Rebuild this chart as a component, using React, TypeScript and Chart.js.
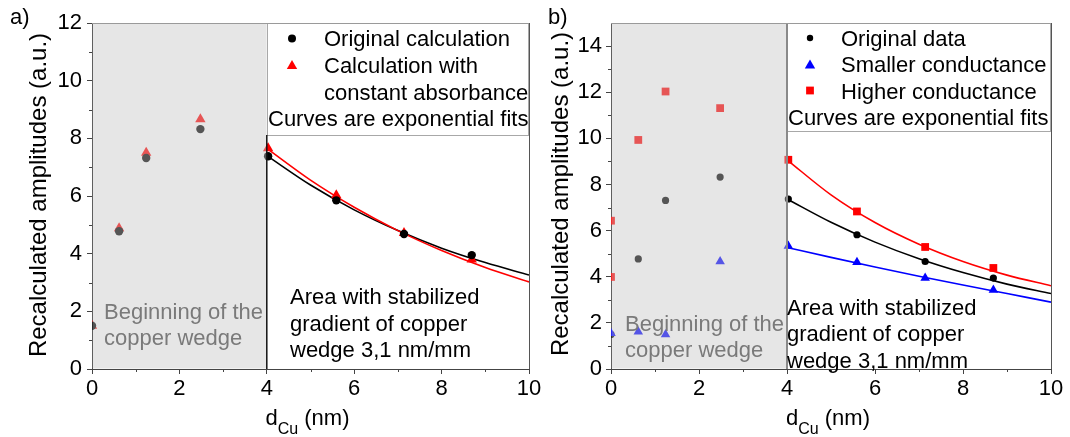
import React, { useEffect, useRef } from 'react';
import { Chart, registerables } from 'chart.js';

Chart.register(...registerables);

const FONT = '"Liberation Sans", Arial, Helvetica, sans-serif';

// ---------- shared ----------
const X_TICKS = [0, 2, 4, 6, 8, 10];
const X_MINOR = [1, 3, 5, 7, 9];
const FIT_X = [4, 5, 6, 7, 8, 9, 10];
const SPLIT_X = 4;

// ---------- panel a ----------
const A_Y_TICKS = [0, 2, 4, 6, 8, 10, 12];
const A_Y_MINOR = [1, 3, 5, 7, 9, 11];
const A_X_ORIG = [0, 0.62, 1.24, 2.48, 4.03, 5.59, 7.14, 8.69];
const A_Y_ORIG = [1.5, 4.78, 7.32, 8.32, 7.38, 5.85, 4.68, 3.95];
const A_X_CONST = [0, 0.62, 1.24, 2.48, 4.03, 5.59, 7.14, 8.69];
const A_Y_CONST = [1.5, 4.88, 7.5, 8.66, 7.66, 6.03, 4.72, 3.8];
const A_FIT_ORIG = [7.4, 6.38, 5.52, 4.8, 4.19, 3.69, 3.26];
const A_FIT_CONST = [7.65, 6.55, 5.61, 4.8, 4.11, 3.52, 3.02];

// ---------- panel b ----------
const B_Y_TICKS = [0, 2, 4, 6, 8, 10, 12, 14];
const B_Y_MINOR = [1, 3, 5, 7, 9, 11, 13];
const B_X_ORIG = [0, 0.62, 1.24, 2.48, 4.03, 5.59, 7.14, 8.69];
const B_Y_ORIG = [1.5, 4.77, 7.31, 8.32, 7.37, 5.82, 4.66, 3.94];
const B_X_SMALL = [0, 0.62, 1.24, 2.48, 4.03, 5.59, 7.14, 8.69];
const B_Y_SMALL = [1.55, 1.62, 1.5, 4.66, 5.33, 4.63, 3.94, 3.43];
const B_X_HIGH = [0, 0, 0.62, 1.24, 2.48, 4.03, 5.59, 7.14, 8.69];
const B_Y_HIGH = [6.43, 3.99, 9.93, 12.03, 11.31, 9.07, 6.83, 5.29, 4.38];
const B_FIT_ORIG = [7.37, 6.36, 5.5, 4.78, 4.18, 3.68, 3.27];
const B_FIT_SMALL = [5.27, 4.84, 4.42, 4.02, 3.64, 3.27, 2.9];
const B_FIT_HIGH = [9.07, 7.55, 6.35, 5.41, 4.66, 4.07, 3.61];

const pts = (xs: number[], ys: number[]) => xs.map((x, i) => ({ x, y: ys[i] }));

const BLACK = '#000000';
const RED = '#ff0000';
const BLUE = '#0000ff';

type Sym = 'circle' | 'triangle' | 'rect';

function drawSym(ctx: CanvasRenderingContext2D, kind: Sym, x: number, y: number, r: number, color: string) {
  ctx.save();
  ctx.fillStyle = color;
  ctx.beginPath();
  if (kind === 'circle') {
    ctx.arc(x, y, r, 0, Math.PI * 2);
  } else if (kind === 'triangle') {
    const w = r * 0.866;
    ctx.moveTo(x, y - 0.75 * r);
    ctx.lineTo(x + w, y + 0.75 * r);
    ctx.lineTo(x - w, y + 0.75 * r);
    ctx.closePath();
  } else {
    const s = r * 0.707;
    ctx.rect(x - s, y - s, 2 * s, 2 * s);
  }
  ctx.fill();
  ctx.restore();
}

type TextItem = { text: string; x: number; y: number; color?: string };
type LegSym = { kind: Sym; x: number; y: number; r: number; color: string };

type Panel = {
  tag: string;
  canvasLeft: number;
  canvasWidth: number;
  chartLeft: number;
  padRight: number;
  yMax: number;
  yTicks: number[];
  yMinor: number[];
  yLabelPad: number;
  legendBottom: number;
  sepColor: string;
  sepWidth: number;
  sepFromTop: boolean;
  tagPos: { x: number; y: number };
  yTitleX: number;
  yTitleY: number;
  syms: LegSym[];
  texts: TextItem[];
  datasets: any[];
};

const scatterDs = (data: any[], kind: Sym, color: string, r: number, order: number) => ({
  type: 'scatter',
  data,
  pointStyle: kind,
  pointRadius: r,
  pointBackgroundColor: color,
  pointBorderColor: color,
  pointBorderWidth: 0,
  showLine: false,
  clip: 0,
  order,
});

const lineDs = (data: any[], color: string, order: number) => ({
  type: 'line',
  data,
  borderColor: color,
  borderWidth: 1.6,
  pointRadius: 0,
  showLine: true,
  fill: false,
  cubicInterpolationMode: 'monotone',
  clip: 0,
  order,
});

const GRAY_TXT = '#7a7a7a';

const PANEL_A: Panel = {
  tag: 'a)',
  canvasLeft: 0,
  canvasWidth: 560,
  chartLeft: 92,
  padRight: 31,
  yMax: 12,
  yTicks: A_Y_TICKS,
  yMinor: A_Y_MINOR,
  yLabelPad: 5,
  legendBottom: 135,
  sepColor: '#111111',
  sepWidth: 1.5,
  sepFromTop: false,
  tagPos: { x: 10, y: 24 },
  yTitleX: 39,
  yTitleY: 195,
  syms: [
    { kind: 'circle', x: 292, y: 38.5, r: 4, color: BLACK },
    { kind: 'triangle', x: 292, y: 64.5, r: 6, color: RED },
  ],
  texts: [
    { text: 'Original calculation', x: 324, y: 46 },
    { text: 'Calculation with', x: 324, y: 72.5 },
    { text: 'constant absorbance', x: 324, y: 99.5 },
    { text: 'Curves are exponential fits', x: 268, y: 125.5 },
    { text: 'Beginning of the', x: 104, y: 318.5, color: GRAY_TXT },
    { text: 'copper wedge', x: 104, y: 345, color: GRAY_TXT },
    { text: 'Area with stabilized', x: 290, y: 304 },
    { text: 'gradient of copper', x: 290, y: 330.5 },
    { text: 'wedge 3,1 nm/mm', x: 290, y: 357 },
  ],
  datasets: [
    lineDs(pts(FIT_X, A_FIT_CONST), RED, 3),
    lineDs(pts(FIT_X, A_FIT_ORIG), BLACK, 4),
    scatterDs(pts(A_X_CONST, A_Y_CONST), 'triangle', RED, 6, 1),
    scatterDs(pts(A_X_ORIG, A_Y_ORIG), 'circle', BLACK, 4.2, 0),
  ],
};

const PANEL_B: Panel = {
  tag: 'b)',
  canvasLeft: 540,
  canvasWidth: 530,
  chartLeft: 71,
  padRight: 19,
  yMax: 15,
  yTicks: B_Y_TICKS,
  yMinor: B_Y_MINOR,
  yLabelPad: 4,
  legendBottom: 131,
  sepColor: '#8a8a8a',
  sepWidth: 2,
  sepFromTop: true,
  tagPos: { x: 8, y: 23.5 },
  yTitleX: 21,
  yTitleY: 194,
  syms: [
    { kind: 'circle', x: 270, y: 38, r: 3.2, color: BLACK },
    { kind: 'triangle', x: 270, y: 64, r: 6, color: BLUE },
    { kind: 'rect', x: 270, y: 90.5, r: 5.5, color: RED },
  ],
  texts: [
    { text: 'Original data', x: 301, y: 46 },
    { text: 'Smaller conductance', x: 301, y: 72 },
    { text: 'Higher conductance', x: 301, y: 99 },
    { text: 'Curves are exponential fits', x: 248, y: 125 },
    { text: 'Beginning of the', x: 85, y: 330.5, color: GRAY_TXT },
    { text: 'copper wedge', x: 85, y: 357, color: GRAY_TXT },
    { text: 'Area with stabilized', x: 247, y: 314.5 },
    { text: 'gradient of copper', x: 247, y: 341 },
    { text: 'wedge 3,1 nm/mm', x: 247, y: 367.5 },
  ],
  datasets: [
    lineDs(pts(FIT_X, B_FIT_SMALL), BLUE, 5),
    lineDs(pts(FIT_X, B_FIT_ORIG), BLACK, 6),
    lineDs(pts(FIT_X, B_FIT_HIGH), RED, 4),
    scatterDs(pts(B_X_ORIG, B_Y_ORIG), 'circle', BLACK, 3.6, 2),
    scatterDs(pts(B_X_SMALL, B_Y_SMALL), 'triangle', BLUE, 5.5, 1),
    scatterDs(pts(B_X_HIGH, B_Y_HIGH), 'rect', RED, 5.5, 0),
  ],
};

const AXIS = '#444444';

function makePlugin(p: Panel) {
  return {
    id: 'decor',
    afterDatasetsDraw(chart: any) {
      const { ctx, chartArea: ca } = chart;
      const xs = chart.scales.x;
      const ys = chart.scales.y;
      const x0 = xs.getPixelForValue(0);
      const x4 = xs.getPixelForValue(SPLIT_X);
      ctx.save();
      // shaded region (translucent, fades points below it)
      ctx.fillStyle = 'rgba(197,197,197,0.43)';
      ctx.fillRect(x0 + 0.5, ca.top, x4 - x0 - 0.5, ca.bottom - ca.top - 0.5);
      // legend box
      const lb = p.legendBottom;
      ctx.fillStyle = '#ffffff';
      ctx.fillRect(x4, ca.top, ca.right - x4, lb - ca.top);
      ctx.strokeStyle = '#a8a8a8';
      ctx.lineWidth = 1;
      ctx.strokeRect(Math.round(x4) + 0.5, ca.top + 0.5, ca.right - Math.round(x4) - 1, lb - ca.top);
      // separator line at x = 4
      ctx.strokeStyle = p.sepColor;
      ctx.lineWidth = p.sepWidth;
      ctx.beginPath();
      ctx.moveTo(x4, p.sepFromTop ? ca.top : lb);
      ctx.lineTo(x4, ca.bottom);
      ctx.stroke();
      // frame (top/right)
      ctx.lineWidth = 1;
      ctx.strokeStyle = '#9a9a9a';
      ctx.beginPath();
      ctx.moveTo(ca.left, ca.top + 0.5);
      ctx.lineTo(ca.right, ca.top + 0.5);
      ctx.stroke();
      ctx.strokeStyle = '#555555';
      ctx.beginPath();
      ctx.moveTo(Math.round(ca.right) + 0.5, ca.top);
      ctx.lineTo(Math.round(ca.right) + 0.5, ca.bottom);
      ctx.stroke();
      // minor ticks
      ctx.strokeStyle = AXIS;
      ctx.beginPath();
      X_MINOR.forEach((v) => {
        const px = Math.round(xs.getPixelForValue(v)) + 0.5;
        ctx.moveTo(px, ca.bottom);
        ctx.lineTo(px, ca.bottom + 3);
      });
      p.yMinor.forEach((v) => {
        const py = Math.round(ys.getPixelForValue(v)) + 0.5;
        ctx.moveTo(ca.left, py);
        ctx.lineTo(ca.left - 3, py);
      });
      ctx.stroke();
      // legend symbols
      p.syms.forEach((s) => drawSym(ctx, s.kind, s.x, s.y, s.r, s.color));
      // texts
      ctx.font = `22px ${FONT}`;
      ctx.textAlign = 'left';
      ctx.textBaseline = 'alphabetic';
      p.texts.forEach((t) => {
        ctx.fillStyle = t.color || '#000000';
        ctx.fillText(t.text, t.x, t.y);
      });
      // panel tag
      ctx.fillStyle = '#000000';
      ctx.fillText(p.tag, p.tagPos.x, p.tagPos.y);
      // y title
      ctx.save();
      ctx.translate(p.yTitleX, p.yTitleY);
      ctx.rotate(-Math.PI / 2);
      ctx.font = `24px ${FONT}`;
      ctx.textAlign = 'center';
      ctx.textBaseline = 'middle';
      ctx.fillText('Recalculated amplitudes (a.u.)', 0, 0);
      ctx.restore();
      // x title: d_Cu (nm)
      const main = `22px ${FONT}`;
      const sub = `16px ${FONT}`;
      ctx.font = main;
      const wD = ctx.measureText('d').width;
      const wN = ctx.measureText(' (nm)').width;
      ctx.font = sub;
      const wS = ctx.measureText('Cu').width;
      const total = wD + wS + wN;
      let cx = (ca.left + ca.right) / 2 - total / 2 - 3;
      const base = 425;
      ctx.textAlign = 'left';
      ctx.textBaseline = 'alphabetic';
      ctx.font = main;
      ctx.fillText('d', cx, base);
      cx += wD;
      ctx.font = sub;
      ctx.fillText('Cu', cx, base + 9);
      cx += wS;
      ctx.font = main;
      ctx.fillText(' (nm)', cx, base);
      ctx.restore();
    },
  };
}

function PanelChart({ p }: { p: Panel }) {
  const ref = useRef<HTMLCanvasElement>(null);
  useEffect(() => {
    if (!ref.current) return;
    const chart = new Chart(ref.current, {
      type: 'scatter',
      data: { datasets: p.datasets as any },
      options: {
        responsive: false,
        animation: false,
        devicePixelRatio: 1,
        events: [],
        layout: { padding: { top: 23, right: p.padRight, left: 0, bottom: 0 } },
        plugins: { legend: { display: false }, tooltip: { enabled: false } },
        scales: {
          x: {
            type: 'linear',
            min: 0,
            max: 10,
            afterBuildTicks: (s: any) => {
              s.ticks = X_TICKS.map((v) => ({ value: v }));
            },
            afterFit: (s: any) => {
              s.height = 68;
            },
            grid: { drawOnChartArea: false, tickLength: 5, color: AXIS, lineWidth: 1 },
            border: { display: true, color: AXIS, width: 1 },
            ticks: {
              font: { family: FONT, size: 22 },
              color: '#000000',
              padding: 2,
              maxRotation: 0,
              autoSkip: false,
            },
          },
          y: {
            type: 'linear',
            min: 0,
            max: p.yMax,
            afterBuildTicks: (s: any) => {
              s.ticks = p.yTicks.map((v) => ({ value: v }));
            },
            afterFit: (s: any) => {
              s.width = p.chartLeft;
            },
            grid: { drawOnChartArea: false, tickLength: 5, color: AXIS, lineWidth: 1 },
            border: { display: true, color: AXIS, width: 1 },
            ticks: {
              font: { family: FONT, size: 22 },
              color: '#000000',
              padding: p.yLabelPad,
              autoSkip: false,
            },
          },
        },
      } as any,
      plugins: [makePlugin(p)],
    });
    return () => chart.destroy();
  }, [p]);
  return (
    <canvas
      ref={ref}
      width={p.canvasWidth}
      height={437}
      style={{ position: 'absolute', left: p.canvasLeft, top: 0, width: p.canvasWidth, height: 437 }}
    />
  );
}

export default function App() {
  return (
    <div style={{ position: 'fixed', left: 0, top: 0, width: 1070, height: 437, background: '#ffffff', overflow: 'hidden' }}>
      <PanelChart p={PANEL_A} />
      <PanelChart p={PANEL_B} />
    </div>
  );
}
